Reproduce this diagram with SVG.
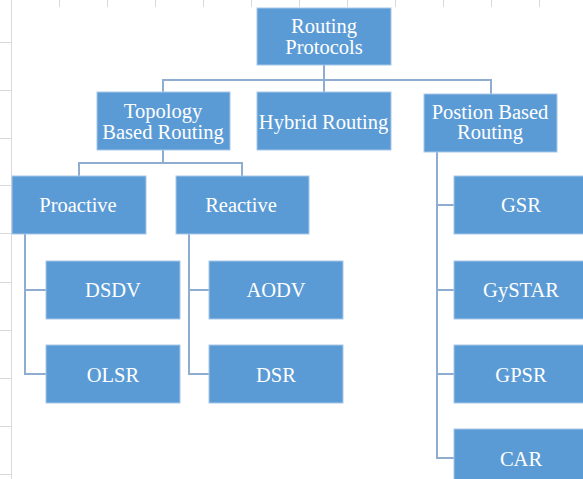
<svg xmlns="http://www.w3.org/2000/svg" width="583" height="479" viewBox="0 0 583 479">
  <style>
    .grid { stroke: #d9d9d9; stroke-width: 1; fill: none; }
    .box { fill: #5b9bd5; stroke: #a9c8e8; stroke-width: 1; }
    .lbl { font-family: 'Liberation Serif', serif; font-size: 20.5px; fill: #ffffff; text-anchor: middle; }
    .wire { stroke: #8eadd0; stroke-width: 2; fill: none; }
  </style>
  <rect x="0" y="0" width="583" height="479" fill="#ffffff"/>

  <!-- sheet grid behind the chart -->
  <g id="sheet-grid" class="grid">
    <line x1="11.5" y1="0" x2="11.5" y2="479"/>
    <line x1="59.5" y1="0" x2="59.5" y2="7"/>
    <line x1="107.5" y1="0" x2="107.5" y2="7"/>
    <line x1="155.5" y1="0" x2="155.5" y2="7"/>
    <line x1="203.5" y1="0" x2="203.5" y2="7"/>
    <line x1="251.5" y1="0" x2="251.5" y2="7"/>
    <line x1="299.5" y1="0" x2="299.5" y2="7"/>
    <line x1="347.5" y1="0" x2="347.5" y2="7"/>
    <line x1="395.5" y1="0" x2="395.5" y2="7"/>
    <line x1="443.5" y1="0" x2="443.5" y2="7"/>
    <line x1="491.5" y1="0" x2="491.5" y2="7"/>
    <line x1="539.5" y1="0" x2="539.5" y2="7"/>
    <line x1="0" y1="42.5" x2="11" y2="42.5"/>
    <line x1="0" y1="90.5" x2="11" y2="90.5"/>
    <line x1="0" y1="138.5" x2="11" y2="138.5"/>
    <line x1="0" y1="185.5" x2="11" y2="185.5"/>
    <line x1="0" y1="233.5" x2="11" y2="233.5"/>
    <line x1="0" y1="282.5" x2="11" y2="282.5"/>
    <line x1="0" y1="330.5" x2="11" y2="330.5"/>
    <line x1="0" y1="378.5" x2="11" y2="378.5"/>
    <line x1="0" y1="426.5" x2="11" y2="426.5"/>
    <line x1="0" y1="474.5" x2="11" y2="474.5"/>
  </g>

  <!-- connectors -->
  <g id="connectors" class="wire">
    <path d="M324 65 V92 M163 92 V80 H491 V94"/>
    <path d="M163 150 V163 M79 176 V163 H242 V176"/>
    <path d="M25 234 V374 H46 M25 290 H46"/>
    <path d="M189 234 V374 H209 M189 290 H209"/>
    <path d="M437 152 V458 H454 M437 205 H454 M437 290 H454 M437 374 H454"/>
  </g>

  <g id="routing-protocols">
    <rect class="box" x="257" y="8" width="134" height="57"/>
    <text class="lbl" x="324" y="33">Routing</text>
    <text class="lbl" x="324" y="54">Protocols</text>
  </g>
  <g id="topology-based">
    <rect class="box" x="97" y="92" width="133" height="58"/>
    <text class="lbl" x="163" y="118">Topology</text>
    <text class="lbl" x="163" y="138.5">Based Routing</text>
  </g>
  <g id="hybrid">
    <rect class="box" x="257" y="92" width="134" height="58"/>
    <text class="lbl" x="323.5" y="128.5">Hybrid Routing</text>
  </g>
  <g id="position-based">
    <rect class="box" x="424" y="94" width="133" height="58"/>
    <text class="lbl" x="490" y="118.5">Postion Based</text>
    <text class="lbl" x="490" y="139">Routing</text>
  </g>
  <g id="proactive">
    <rect class="box" x="12" y="176" width="134" height="58"/>
    <text class="lbl" x="78" y="212">Proactive</text>
  </g>
  <g id="reactive">
    <rect class="box" x="176" y="176" width="133" height="58"/>
    <text class="lbl" x="241" y="212">Reactive</text>
  </g>
  <g id="dsdv">
    <rect class="box" x="46" y="261" width="134" height="58"/>
    <text class="lbl" x="113" y="297">DSDV</text>
  </g>
  <g id="olsr">
    <rect class="box" x="46" y="345" width="134" height="58"/>
    <text class="lbl" x="113" y="382">OLSR</text>
  </g>
  <g id="aodv">
    <rect class="box" x="209" y="261" width="134" height="58"/>
    <text class="lbl" x="276" y="297">AODV</text>
  </g>
  <g id="dsr">
    <rect class="box" x="209" y="345" width="134" height="58"/>
    <text class="lbl" x="276" y="382">DSR</text>
  </g>
  <g id="gsr">
    <rect class="box" x="454" y="176" width="134" height="58"/>
    <text class="lbl" x="521" y="212">GSR</text>
  </g>
  <g id="gystar">
    <rect class="box" x="454" y="261" width="134" height="58"/>
    <text class="lbl" x="521" y="297">GySTAR</text>
  </g>
  <g id="gpsr">
    <rect class="box" x="454" y="345" width="134" height="58"/>
    <text class="lbl" x="521" y="382">GPSR</text>
  </g>
  <g id="car">
    <rect class="box" x="454" y="429" width="134" height="58"/>
    <text class="lbl" x="521" y="466">CAR</text>
  </g>
</svg>
